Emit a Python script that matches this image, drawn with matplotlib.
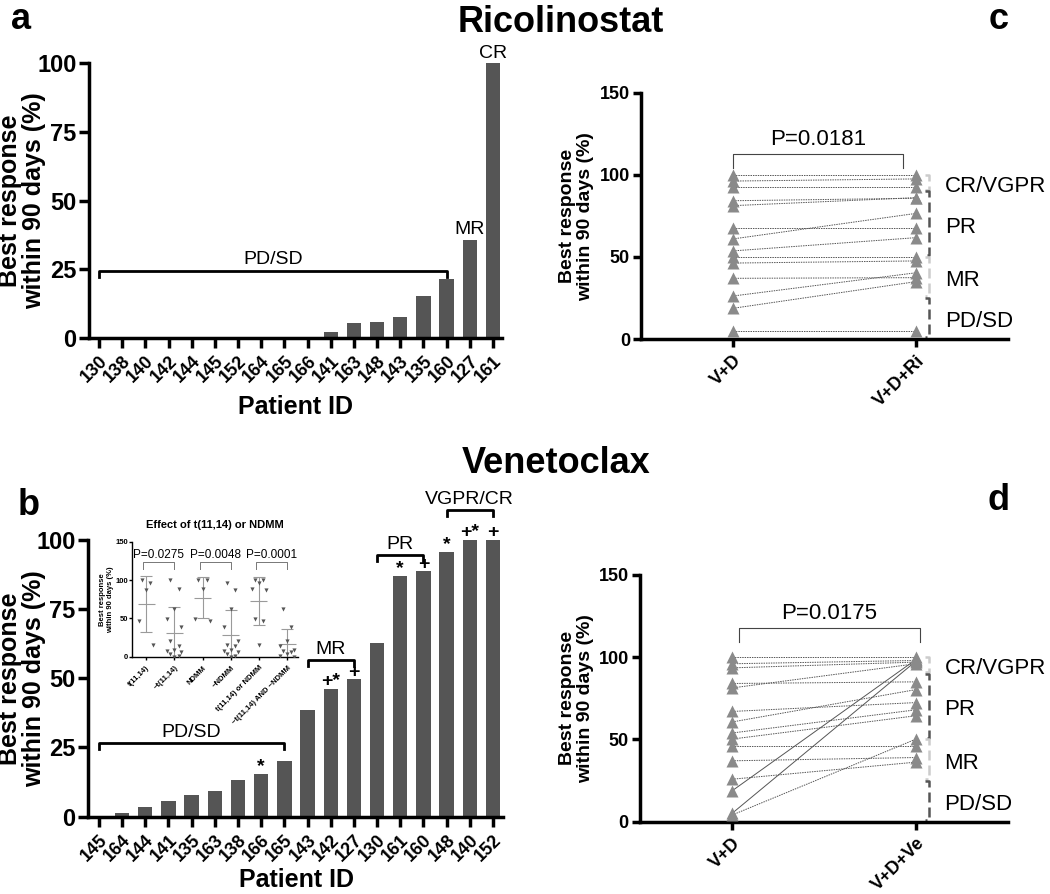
import numpy as np
import matplotlib
matplotlib.use('Agg')
import matplotlib.pyplot as plt

plt.rcParams['font.family'] = ['Liberation Sans', 'DejaVu Sans']

# panel a: ricolinostat, best response per patient
rico_ids = ['130', '138', '140', '142', '144', '145', '152', '164', '165', '166',
            '141', '163', '148', '143', '135', '160', '127', '161']
rico_resp = [0, 0, 0, 0, 0, 0, 0, 0, 0, 0, 2.3, 5.3, 6.0, 7.8, 15.3, 21.6, 35.8, 100]

# panel b: venetoclax, best response per patient
ven_ids = ['145', '164', '144', '141', '135', '163', '138', '166', '165', '143',
           '142', '127', '130', '161', '160', '148', '140', '152']
ven_resp = [0.2, 1.2, 3.5, 5.7, 7.8, 9.3, 13.4, 15.4, 20.2, 38.4,
            46.1, 49.6, 62.7, 87.0, 88.7, 95.7, 100, 100]
# '*' = t(11,14), '+' = NDMM
ven_marks = ['', '', '', '', '', '', '', '*', '', '',
             '+*', '+', '', '*', '+', '*', '+*', '+']

inset_labels = ['t(11,14)', '~t(11,14)', 'NDMM', '~NDMM',
                't(11,14) or NDMM', '~t(11,14) AND ~NDMM']
inset_pvals = ['P=0.0275', 'P=0.0048', 'P=0.0001']

# panel c: V+D -> V+D+Ri
c_labels = ['V+D', 'V+D+Ri']
c_before = [100, 96.3, 92.9, 84.3, 81.3, 67.9, 61.0, 53.7, 50.0, 46.3, 37.0, 26.2, 18.7, 5.1]
c_after = [100, 97.6, 92.9, 85.8, 86.2, 67.9, 76.6, 61.8, 50.0, 47.6, 37.4, 40.4, 35.0, 5.1]
c_pval = 'P=0.0181'

# panel d: V+D -> V+D+Ve
d_labels = ['V+D', 'V+D+Ve']
d_before = [100, 96.0, 93.5, 84.0, 81.3, 67.0, 60.6, 53.9, 50.2, 46.1, 37.0, 25.8, 18.7, 5.0, 4.0]
d_after = [100, 98.0, 97.0, 85.0, 96.0, 72.4, 80.3, 68.0, 64.4, 46.1, 39.0, 36.2, 98.6, 97.6, 50.2]
d_solid = [False] * 12 + [True, True, False]
d_pval = 'P=0.0175'

resp_cats = ['CR/VGPR', 'PR', 'MR', 'PD/SD']
resp_bounds = [100, 90, 50, 25, 0]

BAR = '#555555'


def style_axis(ax, lw=2.5, tl=7, fs=16, pad=2):
    for s in ['top', 'right']:
        ax.spines[s].set_visible(False)
    for s in ['left', 'bottom']:
        ax.spines[s].set_linewidth(lw)
    ax.tick_params(width=lw, length=tl, labelsize=fs)
    ax.tick_params(axis='y', pad=pad)
    for t in ax.get_yticklabels():
        t.set_fontweight('bold')


def bracket(ax, x0, x1, y, label, h=2.2, fs=14):
    ax.plot([x0, x0, x1, x1], [y - h, y, y, y - h], color='k', lw=2, clip_on=False)
    ax.text((x0 + x1) / 2, y + 0.8, label, ha='center', va='bottom', fontsize=fs)


fig = plt.figure(figsize=(10.5, 8.94), dpi=100)

# ---------- panel a ----------
ax_a = fig.add_axes([0.0848, 0.6219, 0.3933, 0.3076])
xa = np.arange(len(rico_ids))
ax_a.bar(xa, rico_resp, width=0.62, color=BAR)
ax_a.set_xlim(-0.43, 17.39)
ax_a.set_ylim(0, 100)
ax_a.set_yticks([0, 25, 50, 75, 100])
ax_a.set_xticks(xa)
ax_a.set_xticklabels(rico_ids, rotation=45, ha='right', rotation_mode='anchor',
                     fontweight='bold')
style_axis(ax_a, fs=17)
ax_a.tick_params(axis='x', labelsize=13)
bracket(ax_a, 0, 15, 24.5, 'PD/SD')
ax_a.text(16, rico_resp[16] + 0.5, 'MR', ha='center', va='bottom', fontsize=14)
ax_a.text(17, rico_resp[17] + 0.5, 'CR', ha='center', va='bottom', fontsize=14)

# ---------- panel b ----------
ax_b = fig.add_axes([0.0838, 0.0865, 0.3952, 0.3095])
xb = np.arange(len(ven_ids))
ax_b.bar(xb, ven_resp, width=0.62, color=BAR)
ax_b.set_xlim(-0.47, 17.43)
ax_b.set_ylim(0, 100)
ax_b.set_yticks([0, 25, 50, 75, 100])
ax_b.set_xticks(xb)
ax_b.set_xticklabels(ven_ids, rotation=45, ha='right', rotation_mode='anchor',
                     fontweight='bold')
style_axis(ax_b, fs=17)
ax_b.tick_params(axis='x', labelsize=13)
for i, m in enumerate(ven_marks):
    if m:
        ax_b.text(i, ven_resp[i] - 0.5, m, ha='center', va='bottom',
                  fontsize=14, fontweight='bold', clip_on=False)
bracket(ax_b, 0, 8, 26.5, 'PD/SD')
bracket(ax_b, 9, 11, 56.6, 'MR')
bracket(ax_b, 12, 14, 94.6, 'PR')
bracket(ax_b, 15, 17, 110.8, 'VGPR/CR')

# ---------- inset ----------
ax_in = fig.add_axes([0.1257, 0.2654, 0.158, 0.1286])
is_t = np.array(['*' in m for m in ven_marks])
is_n = np.array(['+' in m for m in ven_marks])
vr = np.array(ven_resp)
groups = [vr[is_t], vr[~is_t], vr[is_n], vr[~is_n], vr[is_t | is_n], vr[~(is_t | is_n)]]
jit = [-0.15, 0.15, 0.0, -0.25, 0.25]
for g, vals in enumerate(groups):
    order = np.argsort(-vals)
    offs = np.zeros(len(vals))
    for k, idx in enumerate(order):
        offs[idx] = jit[k % len(jit)]
    ax_in.scatter(g + offs, vals, marker='v', s=9, color='#555555', zorder=3, lw=0)
    mu = vals.mean()
    sd = vals.std(ddof=1)
    ax_in.errorbar(g, mu, yerr=sd, fmt='none', ecolor='#9a9a9a', elinewidth=0.8,
                   capsize=4, capthick=0.8)
    ax_in.hlines(mu, g - 0.3, g + 0.3, color='#9a9a9a', lw=0.8)
for k, p in enumerate(inset_pvals):
    g0 = 2 * k
    ax_in.plot([g0 - 0.1, g0 - 0.1, g0 + 1, g0 + 1], [114, 123, 123, 114], color='#777777', lw=0.7)
    ax_in.text(g0 + 0.45, 125, p, ha='center', va='bottom', fontsize=8.5)
ax_in.set_xlim(-0.5, 5.38)
ax_in.set_ylim(0, 150)
ax_in.set_yticks([0, 50, 100, 150])
ax_in.set_xticks(range(6))
ax_in.set_xticklabels(inset_labels, rotation=45, ha='right', rotation_mode='anchor',
                      fontsize=5.5, fontweight='bold')
style_axis(ax_in, lw=1, tl=2, fs=5.5, pad=1)
ax_in.set_ylabel('Best response\nwithin 90 days (%)', fontsize=5.5, fontweight='bold', labelpad=1)
ax_in.text(0.5, 1.1, 'Effect of t(11,14) or NDMM', transform=ax_in.transAxes,
           ha='center', va='bottom', fontsize=8, fontweight='bold')


# ---------- panels c, d ----------
def paired(ax, labels, before, after, solid, pval, px0, px1, py):
    for b, a, s in zip(before, after, solid):
        ax.plot([0, 1], [b, a], color='#555555', lw=0.7,
                ls='-' if s else (0, (1.5, 1)), zorder=2)
    ax.plot(np.zeros(len(before)), before, '^', color='#8a8a8a', ms=8, mec='none', zorder=3)
    ax.plot(np.ones(len(after)), after, '^', color='#8a8a8a', ms=8, mec='none', zorder=3)
    ax.plot([px0, px0, px1, px1], [py - 9, py, py, py - 9], color='#444444', lw=0.8)
    ax.text((px0 + px1) / 2, py + 2, pval, ha='center', va='bottom', fontsize=16)
    xr = 1.07
    for k, lab in enumerate(resp_cats):
        top, bot = resp_bounds[k], resp_bounds[k + 1]
        col = '#cccccc' if k % 2 == 0 else '#555555'
        ax.plot([xr - 0.02, xr, xr, xr - 0.02], [top, top, bot + 1, bot + 1],
                color=col, lw=1.8, dashes=(4, 2), clip_on=False)
        ax.text(xr + 0.085, (top + bot) / 2 - 2, lab, ha='left', va='center', fontsize=16)
    ax.set_xlim(-0.5, 1.5)
    ax.set_ylim(0, 150)
    ax.set_yticks([0, 50, 100, 150])
    ax.set_xticks([0, 1])
    ax.set_xticklabels(labels, rotation=45, ha='right', rotation_mode='anchor',
                       fontweight='bold')
    style_axis(ax, lw=2.5, tl=6, fs=13)
    ax.tick_params(axis='x', labelsize=13)


ax_c = fig.add_axes([0.6105, 0.6208, 0.3495, 0.2752])
paired(ax_c, c_labels, c_before, c_after, [False] * len(c_before), c_pval, 0, 0.93, 113)
ax_d = fig.add_axes([0.6095, 0.0809, 0.3505, 0.276])
paired(ax_d, d_labels, d_before, d_after, d_solid, d_pval, 0.04, 1.02, 118)

# ---------- labels and titles ----------
ylab = 'Best response\nwithin 90 days (%)'
fig.text(0.021, 0.776, ylab, rotation=90, ha='center', va='center', fontsize=18,
         fontweight='bold', linespacing=1.0)
fig.text(0.021, 0.241, ylab, rotation=90, ha='center', va='center', fontsize=18,
         fontweight='bold', linespacing=1.0)
fig.text(0.549, 0.758, ylab, rotation=90, ha='center', va='center', fontsize=14,
         fontweight='bold', linespacing=1.05)
fig.text(0.549, 0.219, ylab, rotation=90, ha='center', va='center', fontsize=14,
         fontweight='bold', linespacing=1.05)
fig.text(0.281, 0.545, 'Patient ID', ha='center', va='center', fontsize=18, fontweight='bold')
fig.text(0.282, 0.016, 'Patient ID', ha='center', va='center', fontsize=18, fontweight='bold')

fig.text(0.534, 0.975, 'Ricolinostat', ha='center', va='center', fontsize=26, fontweight='bold')
fig.text(0.53, 0.482, 'Venetoclax', ha='center', va='center', fontsize=26, fontweight='bold')
fig.text(0.02, 0.978, 'a', ha='center', va='center', fontsize=26, fontweight='bold')
fig.text(0.027, 0.435, 'b', ha='center', va='center', fontsize=26, fontweight='bold')
fig.text(0.951, 0.978, 'c', ha='center', va='center', fontsize=26, fontweight='bold')
fig.text(0.951, 0.44, 'd', ha='center', va='center', fontsize=26, fontweight='bold')

fig.savefig('out.png', dpi=100)
